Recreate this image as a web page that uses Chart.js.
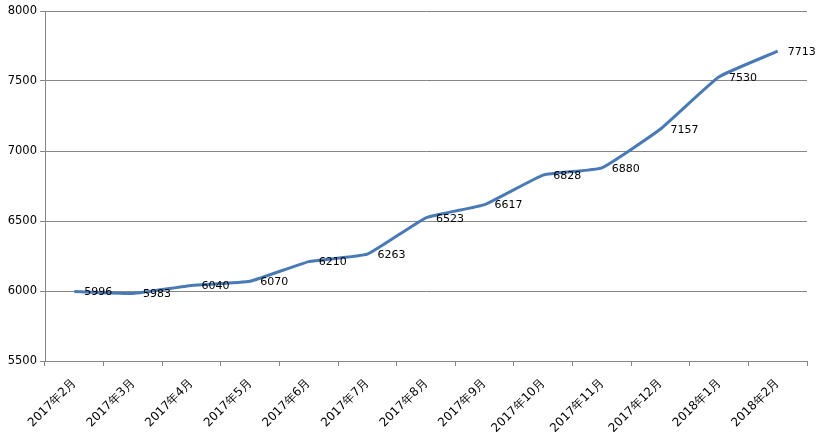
<!DOCTYPE html>
<html>
<head>
<meta charset="utf-8">
<script src="https://cdn.jsdelivr.net/npm/chart.js@4.4.1/dist/chart.umd.min.js"></script>
<style>
  html, body { margin: 0; padding: 0; background: #fff; }
  #wrap { position: relative; width: 820px; height: 435px; }
</style>
</head>
<body>
<div id="wrap"><canvas id="c" width="820" height="435"></canvas></div>
<script>
  const MONTHS = ["2017年2月", "2017年3月", "2017年4月", "2017年5月", "2017年6月", "2017年7月",
    "2017年8月", "2017年9月", "2017年10月", "2017年11月", "2017年12月", "2018年1月", "2018年2月"];
  const PRICES = [5996, 5983, 6040, 6070, 6210, 6263, 6523, 6617, 6828, 6880, 7157, 7530, 7713];
  const Y_MIN = 5500, Y_MAX = 8000, Y_STEP = 500;

  const FONT = "'DejaVu Sans', Verdana, sans-serif";

  // value labels to the right of each point
  const valueLabels = {
    id: "valueLabels",
    afterDatasetsDraw(chart) {
      const ctx = chart.ctx;
      const meta = chart.getDatasetMeta(0);
      ctx.save();
      ctx.font = "11px " + FONT;
      ctx.fillStyle = "#000";
      ctx.textAlign = "left";
      ctx.textBaseline = "middle";
      meta.data.forEach((pt, i) => {
        ctx.fillText(String(PRICES[i]), pt.x + 10, pt.y + 1);
      });
      ctx.restore();
    }
  };

  new Chart(document.getElementById("c"), {
    type: "line",
    data: {
      labels: MONTHS,
      datasets: [{
        data: PRICES,
        borderColor: "#4a7ab6",
        borderWidth: 3,
        pointRadius: 0,
        tension: 0.12,
        fill: false
      }]
    },
    options: {
      responsive: false,
      animation: false,
      layout: { padding: { top: 11, right: 13, left: 0, bottom: 0 } },
      plugins: { legend: { display: false }, tooltip: { enabled: false } },
      scales: {
        x: {
          offset: true,
          grid: { offset: true, drawOnChartArea: false, drawTicks: true, tickLength: 5, color: "#868686" },
          border: { color: "#868686" },
          ticks: { color: "#000", font: { family: FONT, size: 12 }, minRotation: 45, maxRotation: 45, padding: 10 },
          afterFit(s) { s.height = 74; }
        },
        y: {
          min: Y_MIN, max: Y_MAX,
          grid: { color: "#868686", tickLength: 5 },
          border: { color: "#868686" },
          ticks: { stepSize: Y_STEP, color: "#000", font: { family: FONT, size: 11.5 }, padding: 3,
            callback: v => String(v) },
          afterFit(s) { s.width = 45; }
        }
      }
    },
    plugins: [valueLabels]
  });
</script>
</body>
</html>
